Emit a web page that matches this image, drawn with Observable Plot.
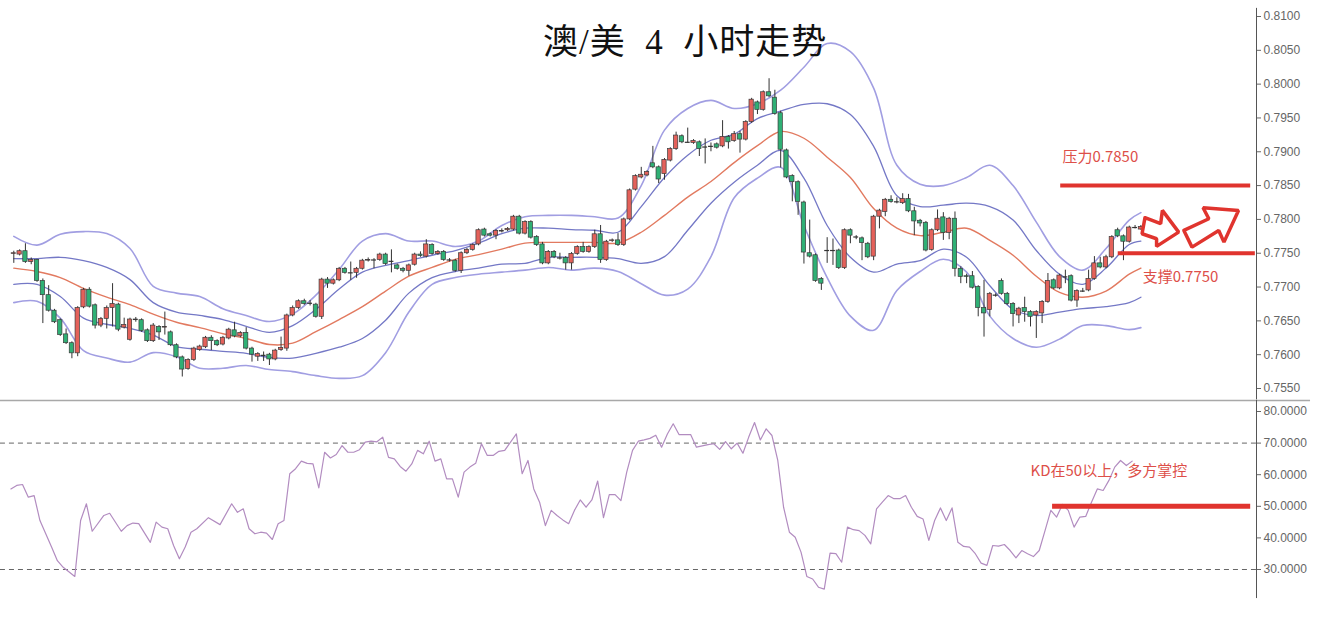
<!DOCTYPE html>
<html><head><meta charset="utf-8">
<script src="https://cdn.jsdelivr.net/npm/d3@7"></script>
<script src="https://cdn.jsdelivr.net/npm/@observablehq/plot@0.6"></script>
<style>
html,body{margin:0;padding:0;background:#fff;}
#wrap{position:relative;width:1317px;height:635px;overflow:hidden;background:#fff;}
#topChart,#botChart{position:absolute;left:0;}
#topChart{top:0;}
#botChart{top:398px;}
#title{position:absolute;left:543px;top:22px;font-family:"Liberation Serif","Noto Sans CJK SC",serif;font-size:35px;line-height:42px;color:#111;white-space:pre;letter-spacing:1px;}
</style></head>
<body><div id="wrap"><div id="topChart"></div><div id="botChart"></div><div id="title">澳/美  4  小时走势</div></div>
<script>
// ---- candles (4h AUD/USD) ----
const open = [
.7749,.7748,.7753,.7737,.7740,.7709,.7688,.7665,.7651,.7630,
.7617,.7602,.7670,.7696,.7673,.7643,.7653,.7669,.7674,.7640,
.7622,.7651,.7651,.7636,.7620,.7641,.7640,.7633,.7614,.7596,
.7579,.7592,.7607,.7611,.7625,.7620,.7615,.7624,.7636,.7627,
.7632,.7609,.7597,.7599,.7600,.7593,.7607,.7609,.7658,.7669,
.7679,.7676,.7674,.7656,.7711,.7705,.7710,.7727,.7721,.7721,
.7727,.7739,.7740,.7740,.7748,.7738,.7732,.7727,.7724,.7733,
.7748,.7745,.7762,.7749,.7752,.7740,.7739,.7724,.7750,.7755,
.7763,.7785,.7778,.7776,.7782,.7784,.7785,.7804,.7779,.7796,
.7774,.7763,.7735,.7752,.7743,.7743,.7735,.7749,.7759,.7752,
.7759,.7778,.7740,.7768,.7769,.7762,.7800,.7844,.7862,.7865,
.7883,.7877,.7867,.7887,.7904,.7923,.7914,.7913,.7914,.7907,
.7908,.7911,.7908,.7922,.7916,.7926,.7918,.7944,.7973,.7962,
.7988,.7980,.7957,.7902,.7864,.7855,.7825,.7750,.7747,.7712,
.7754,.7754,.7754,.7728,.7784,.7774,.7772,.7764,.7745,.7804,
.7811,.7829,.7826,.7824,.7830,.7812,.7798,.7795,.7755,.7784,
.7803,.7780,.7801,.7727,.7716,.7716,.7700,.7669,.7666,.7688,
.7709,.7690,.7675,.7658,.7669,.7663,.7658,.7661,.7678,.7710,
.7698,.7715,.7716,.7680,.7694,.7695,.7712,.7735,.7729,.7744,
.7784,.7775,.7767,.7788,.7785];
const close = [
.7750,.7753,.7737,.7740,.7709,.7688,.7665,.7648,.7629,.7617,
.7602,.7669,.7696,.7671,.7643,.7653,.7669,.7675,.7637,.7644,
.7652,.7652,.7635,.7620,.7643,.7633,.7641,.7614,.7596,.7578,
.7592,.7609,.7612,.7625,.7620,.7614,.7625,.7637,.7627,.7632,
.7609,.7600,.7601,.7599,.7593,.7606,.7610,.7658,.7669,.7679,
.7675,.7676,.7656,.7711,.7705,.7710,.7727,.7721,.7721,.7727,
.7739,.7740,.7740,.7748,.7734,.7738,.7727,.7724,.7732,.7748,
.7746,.7763,.7749,.7752,.7740,.7740,.7724,.7750,.7755,.7762,
.7784,.7776,.7776,.7783,.7783,.7786,.7804,.7779,.7796,.7773,
.7762,.7735,.7752,.7744,.7743,.7735,.7749,.7759,.7752,.7759,
.7778,.7740,.7767,.7769,.7762,.7800,.7843,.7864,.7866,.7870,
.7877,.7859,.7888,.7904,.7924,.7914,.7914,.7916,.7904,.7907,
.7908,.7906,.7922,.7914,.7926,.7918,.7944,.7977,.7962,.7988,
.7982,.7956,.7903,.7862,.7855,.7826,.7751,.7745,.7709,.7705,
.7754,.7754,.7728,.7784,.7776,.7774,.7765,.7744,.7804,.7813,
.7829,.7826,.7826,.7830,.7812,.7797,.7794,.7754,.7784,.7801,
.7780,.7801,.7727,.7715,.7715,.7699,.7669,.7661,.7690,.7688,
.7690,.7675,.7660,.7668,.7663,.7656,.7663,.7678,.7709,.7698,
.7717,.7715,.7680,.7694,.7694,.7712,.7735,.7729,.7744,.7774,
.7775,.7767,.7788,.7788,.7789];
const high = [
.7753,.7755,.7764,.7743,.7741,.7712,.7702,.7667,.7653,.7638,
.7619,.7671,.7698,.7699,.7675,.7655,.7672,.7705,.7676,.7654,
.7654,.7655,.7653,.7638,.7646,.7643,.7663,.7635,.7616,.7598,
.7594,.7611,.7614,.7627,.7628,.7622,.7627,.7639,.7648,.7634,
.7640,.7611,.7603,.7604,.7602,.7608,.7626,.7660,.7672,.7681,
.7682,.7680,.7676,.7713,.7714,.7712,.7729,.7729,.7737,.7729,
.7741,.7743,.7742,.7750,.7750,.7755,.7734,.7729,.7734,.7750,
.7752,.7770,.7764,.7754,.7754,.7742,.7741,.7752,.7757,.7764,
.7786,.7787,.7780,.7785,.7786,.7788,.7806,.7806,.7798,.7798,
.7776,.7766,.7754,.7754,.7750,.7745,.7751,.7761,.7766,.7761,
.7784,.7791,.7769,.7771,.7779,.7802,.7845,.7866,.7877,.7872,
.7908,.7879,.7890,.7906,.7929,.7925,.7935,.7918,.7916,.7919,
.7913,.7913,.7946,.7924,.7930,.7930,.7946,.7979,.7975,.7990,
.8008,.7991,.7960,.7904,.7866,.7857,.7827,.7799,.7749,.7714,
.7773,.7771,.7756,.7786,.7786,.7776,.7774,.7766,.7806,.7815,
.7831,.7835,.7832,.7838,.7837,.7818,.7800,.7797,.7786,.7814,
.7810,.7803,.7811,.7730,.7719,.7723,.7702,.7710,.7692,.7690,
.7712,.7692,.7677,.7670,.7685,.7665,.7665,.7680,.7720,.7712,
.7719,.7725,.7718,.7696,.7698,.7725,.7745,.7744,.7747,.7776,
.7787,.7777,.7790,.7791,.7791];
const low = [
.7735,.7746,.7735,.7733,.7707,.7646,.7663,.7646,.7627,.7615,
.7594,.7597,.7668,.7669,.7638,.7640,.7638,.7641,.7634,.7638,
.7620,.7648,.7633,.7618,.7618,.7621,.7629,.7612,.7594,.7567,
.7577,.7590,.7605,.7609,.7606,.7612,.7613,.7622,.7625,.7625,
.7607,.7589,.7590,.7590,.7584,.7591,.7605,.7605,.7656,.7667,
.7673,.7672,.7654,.7652,.7698,.7703,.7708,.7719,.7710,.7713,
.7725,.7737,.7727,.7738,.7732,.7721,.7725,.7721,.7716,.7731,
.7744,.7743,.7747,.7747,.7738,.7737,.7722,.7720,.7748,.7753,
.7761,.7774,.7774,.7770,.7780,.7782,.7783,.7777,.7777,.7771,
.7760,.7733,.7733,.7742,.7740,.7725,.7725,.7747,.7750,.7750,
.7757,.7735,.7738,.7766,.7760,.7760,.7798,.7842,.7860,.7863,
.7875,.7853,.7858,.7885,.7902,.7912,.7913,.7911,.7893,.7882,
.7900,.7904,.7906,.7904,.7914,.7898,.7916,.7942,.7955,.7960,
.7980,.7954,.7876,.7860,.7826,.7806,.7734,.7743,.7707,.7695,
.7735,.7732,.7726,.7726,.7764,.7770,.7739,.7742,.7739,.7786,
.7804,.7824,.7823,.7822,.7810,.7776,.7789,.7752,.7753,.7782,
.7769,.7770,.7715,.7705,.7705,.7697,.7656,.7626,.7656,.7685,
.7688,.7673,.7641,.7646,.7648,.7641,.7624,.7646,.7676,.7696,
.7696,.7705,.7678,.7670,.7692,.7693,.7710,.7727,.7727,.7742,
.7773,.7739,.7765,.7786,.7784];

// ---- Bollinger bands, read every 4 candles ----
const bandIdx = [0,4,8,12,16,20,24,28,32,36,40,44,48,52,56,60,64,68,72,76,80,84,88,92,96,100,104,108,112,116,120,124,128,132,136,140,144,148,152,156,160,164,168,172,176,180,184,188,192,194];
const outerUpper = [.7775,.7762,.7778,.7782,.7779,.7757,.7701,.7691,.7686,.7668,.7658,.7649,.7660,.7688,.7726,.7768,.7779,.7768,.7768,.7760,.7768,.7791,.7804,.7806,.7806,.7804,.7802,.7850,.7932,.7964,.7976,.7964,.7971,.7991,.8025,.8060,.8048,.7994,.7880,.7852,.7850,.7862,.7880,.7850,.7796,.7745,.7725,.7757,.7799,.7810];
const innerUpper = [.7742,.7742,.7744,.7739,.7729,.7711,.7677,.7663,.7658,.7652,.7642,.7633,.7643,.7667,.7697,.7722,.7732,.7739,.7747,.7754,.7765,.7779,.7787,.7787,.7785,.7784,.7781,.7819,.7862,.7895,.7917,.7926,.7949,.7960,.7970,.7971,.7955,.7908,.7835,.7819,.7821,.7824,.7819,.7799,.7754,.7719,.7704,.7728,.7763,.7768];
const middle = [.7728,.7723,.7714,.7698,.7685,.7674,.7660,.7648,.7640,.7631,.7624,.7615,.7617,.7634,.7652,.7671,.7694,.7716,.7729,.7741,.7748,.7756,.7765,.7766,.7766,.7766,.7765,.7781,.7806,.7833,.7856,.7884,.7909,.7930,.7920,.7892,.7862,.7816,.7787,.7776,.7781,.7787,.7769,.7747,.7716,.7692,.7685,.7694,.7719,.7728];
const innerLower = [.7704,.7704,.7686,.7654,.7645,.7639,.7629,.7612,.7608,.7605,.7602,.7596,.7595,.7602,.7611,.7624,.7651,.7691,.7714,.7723,.7728,.7734,.7735,.7744,.7744,.7744,.7742,.7735,.7745,.7784,.7824,.7855,.7880,.7902,.7861,.7791,.7744,.7722,.7734,.7739,.7756,.7744,.7702,.7667,.7658,.7663,.7668,.7671,.7677,.7685];
const outerLower = [.7677,.7679,.7654,.7606,.7595,.7589,.7603,.7597,.7580,.7580,.7584,.7578,.7575,.7569,.7565,.7569,.7603,.7663,.7704,.7714,.7719,.7722,.7725,.7729,.7725,.7728,.7723,.7705,.7688,.7697,.7745,.7832,.7861,.7877,.7791,.7714,.7657,.7636,.7695,.7723,.7741,.7722,.7657,.7624,.7611,.7623,.7643,.7643,.7637,.7640];

// ---- KD oscillator, per candle (null = not read) ----
const kd = [
55.5,56.6,56.9,52.9,53.4,45.5,null,37.1,32.8,30.7,
null,27.8,45.5,50.8,42.1,null,47.1,47.8,null,42.1,
43.9,44.7,44.5,null,38.6,45.0,43.4,42.9,37.6,33.4,
37.1,41.8,42.9,null,46.4,null,44.2,null,50.8,48.1,
49.2,42.9,41.3,41.8,41.5,39.5,44.5,45.5,60.3,61.9,
64.3,63.6,63.4,55.8,67.1,65.3,66.4,69.2,67.1,67.1,
67.9,70.3,70.6,70.4,71.9,65.5,65.0,62.6,61.1,63.4,
67.7,66.6,70.6,64.3,65.0,58.7,58.7,52.9,60.8,62.4,
63.6,69.8,66.1,66.1,67.4,67.7,null,72.9,60.3,64.5,
55.5,51.3,43.9,48.7,47.1,45.7,44.5,48.7,52.0,49.7,
52.0,58.0,46.4,53.7,53.7,51.8,60.8,67.7,70.6,71.0,
71.5,72.5,68.7,72.9,76.1,72.7,null,72.7,68.7,null,
69.5,69.8,68.0,70.5,68.2,70.0,66.8,71.9,76.5,71.0,
74.5,72.4,64.5,49.7,41.8,40.2,35.5,27.8,27.0,24.4,
23.8,35.2,35.0,32.3,43.4,42.6,42.3,40.8,38.1,49.2,
51.3,53.4,52.4,52.4,53.4,49.7,46.8,46.0,39.2,45.5,
49.5,45.5,49.5,38.6,37.3,37.1,35.0,32.0,31.3,37.6,
37.4,37.9,36.0,33.7,36.0,35.0,34.1,36.0,42.3,48.7,
46.6,50.6,48.7,43.4,46.6,46.8,51.3,55.5,55.0,58.2,
62.4,64.5,62.9,64.3];

// ---- ticks & levels ----
const priceTicks = [0.755,0.760,0.765,0.770,0.775,0.780,0.785,0.790,0.795,0.800,0.805,0.810];
const kdTicks = [30,40,50,60,70,80];
const kdGuides = [30,70];
const resistance = {price:0.7850, from:180.2, to:212.9, label:"压力0.7850", lx:180.5, ly:0.7892};
const support = {price:0.7750, from:190.1, to:213.7, label:"支撑0.7750", lx:194.3, ly:0.7714};
const kdLevel = {value:50, from:178.8, to:212.9, label:"KD在50以上，多方掌控", lx:175, ly:61.0};
const arrowSmall = [[194.7,.78025],[197.4,.77936],[197.7,.78133],[200.5,.77812],[196.7,.77601],[196.7,.77714],[194.2,.77788],[194.7,.78025]];
const arrowBig = [[201.4,.77837],[205.7,.78010],[204.7,.78173],[210.8,.78133],[208.3,.77664],[207.4,.77837],[202.8,.77590],[201.4,.77837]];
const axisAt = 213.9; // right axis position in candle units

// ---- build rows ----
const candles = open.map((o,i)=>({i, open:o, close:close[i], high:high[i], low:low[i]}));
const bodies = candles.filter(d=>Math.abs(d.close-d.open)>=0.00005);
const dojis = candles.filter(d=>Math.abs(d.close-d.open)<0.00005);
const bands = bandIdx.map((i,k)=>({i, ou:outerUpper[k], iu:innerUpper[k], m:middle[k], il:innerLower[k], ol:outerLower[k]}));
const kdRows = kd.map((v,i)=>({i, v})).filter(d=>d.v!=null);

const RED="#e4615a", GREEN="#2fb075", ANN="#e0342e", ANNTXT="#dd4f49";
const outerC="#a19ee2", innerC="#7478c6", midC="#e27a60";
const font = "'Liberation Sans', Arial, sans-serif";

const topPlot = Plot.plot({
  width:1317, height:400,
  marginLeft:13.3, marginRight:61, marginTop:16, marginBottom:12,
  style:{fontFamily:font, background:"transparent", overflow:"visible"},
  x:{domain:[0,axisAt], axis:null},
  y:{domain:[0.755,0.810], axis:null},
  marks:[
    Plot.line(bands,{x:"i",y:"ou",stroke:outerC,strokeWidth:1.6,curve:"catmull-rom"}),
    Plot.line(bands,{x:"i",y:"ol",stroke:outerC,strokeWidth:1.6,curve:"catmull-rom"}),
    Plot.line(bands,{x:"i",y:"iu",stroke:innerC,strokeWidth:1.3,curve:"catmull-rom"}),
    Plot.line(bands,{x:"i",y:"il",stroke:innerC,strokeWidth:1.3,curve:"catmull-rom"}),
    Plot.line(bands,{x:"i",y:"m",stroke:midC,strokeWidth:1.4,curve:"catmull-rom"}),
    Plot.ruleX(candles,{x:"i",y1:"low",y2:"high",stroke:"#333",strokeWidth:1}),
    Plot.rect(bodies,{x1:d=>d.i-0.37,x2:d=>d.i+0.37,y1:d=>Math.min(d.open,d.close),y2:d=>Math.max(d.open,d.close),
      fill:d=>d.close>d.open?RED:GREEN, stroke:"#3a3a3a", strokeWidth:0.7}),
    Plot.ruleY(dojis,{y:"close",x1:d=>d.i-0.42,x2:d=>d.i+0.42,stroke:"#333",strokeWidth:1.2}),
    Plot.ruleY([resistance],{y:"price",x1:"from",x2:"to",stroke:ANN,strokeWidth:4}),
    Plot.ruleY([support],{y:"price",x1:"from",x2:"to",stroke:ANN,strokeWidth:4}),
    Plot.text([resistance,support],{x:"lx",y:"ly",text:"label",textAnchor:"start",fill:ANNTXT,fontSize:15,fontFamily:"'Noto Sans CJK SC', sans-serif"}),
    Plot.line(arrowSmall,{x:d=>d[0],y:d=>d[1],stroke:ANN,strokeWidth:3.5,strokeLinejoin:"miter"}),
    Plot.line(arrowBig,{x:d=>d[0],y:d=>d[1],stroke:ANN,strokeWidth:3.5,strokeLinejoin:"miter"}),
    Plot.ruleX([axisAt],{y1:0.8112,y2:0.7533,stroke:"#555",strokeWidth:1}),
    Plot.axisY(priceTicks,{anchor:"right",tickFormat:d3.format(".4f"),tickSize:4,tickPadding:3,fontSize:12,color:"#666"})
  ]
});
document.getElementById("topChart").appendChild(topPlot);

const botPlot = Plot.plot({
  width:1317, height:202,
  marginLeft:13.3, marginRight:61, marginTop:13, marginBottom:31,
  style:{fontFamily:font, background:"transparent", overflow:"visible"},
  x:{domain:[0,axisAt], axis:null},
  y:{domain:[30,80], axis:null},
  marks:[
    Plot.ruleY([83.48],{x1:-2.3,x2:223.2,stroke:"#a8a8a8",strokeWidth:1.5}),
    Plot.ruleY(kdGuides,{x1:-2.3,x2:axisAt,stroke:"#666",strokeWidth:1,strokeDasharray:"5,4"}),
    Plot.line(kdRows,{x:d=>d.i-0.5,y:"v",stroke:"#b28cc0",strokeWidth:1.2}),
    Plot.ruleY([kdLevel],{y:"value",x1:"from",x2:"to",stroke:ANN,strokeWidth:5}),
    Plot.text([kdLevel],{x:"lx",y:"ly",text:"label",textAnchor:"start",fill:ANNTXT,fontSize:15,fontFamily:"'Noto Sans CJK SC', sans-serif"}),
    Plot.ruleX([axisAt],{y1:83.48,y2:20.8,stroke:"#555",strokeWidth:1}),
    Plot.axisY(kdTicks,{anchor:"right",tickFormat:d3.format(".4f"),tickSize:4,tickPadding:3,fontSize:12,color:"#666"})
  ]
});
document.getElementById("botChart").appendChild(botPlot);
</script></body></html>
